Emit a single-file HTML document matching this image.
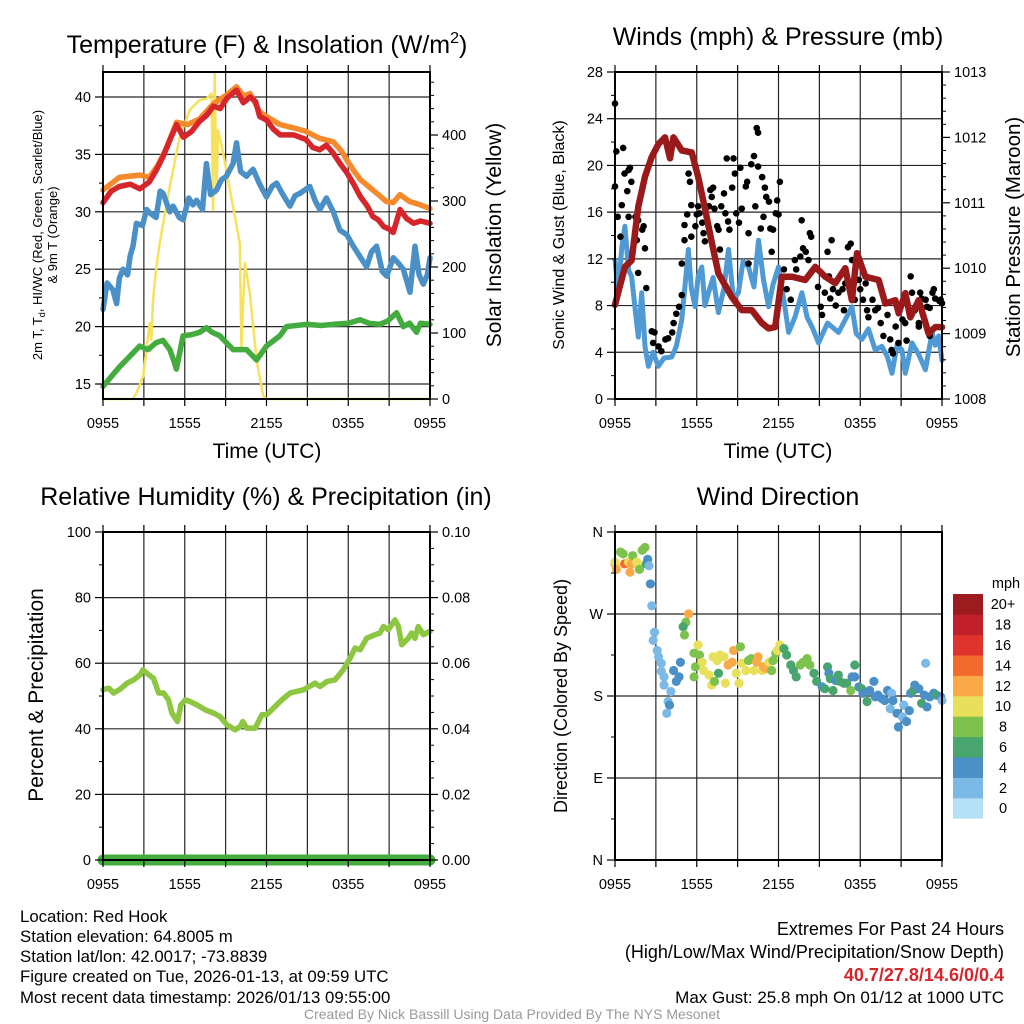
<!DOCTYPE html>
<html><head><meta charset="utf-8"><style>
html,body{margin:0;padding:0;background:#fff;}
svg{display:block;font-family:"Liberation Sans",Arial,sans-serif;}
</style></head><body>
<svg id="c" width="1024" height="1024" viewBox="0 0 1024 1024">
<rect width="1024" height="1024" fill="#fff"/>
<text x="267" y="53" font-size="25" text-anchor="middle">Temperature (F) &amp; Insolation (W/m<tspan dy="-10" font-size="16">2</tspan><tspan dy="10">)</tspan></text>
<text x="778" y="45" font-size="25" text-anchor="middle">Winds (mph) &amp; Pressure (mb)</text>
<text x="266" y="505" font-size="25" text-anchor="middle">Relative Humidity (%) &amp; Precipitation (in)</text>
<text x="778" y="505" font-size="25" text-anchor="middle">Wind Direction</text>
<text transform="translate(42,235) rotate(-90)" font-size="13" text-anchor="middle">2m T, T<tspan dy="3" font-size="9">d</tspan><tspan dy="-3">, HI/WC (Red, Green, Scarlet/Blue)</tspan></text>
<text transform="translate(57,235) rotate(-90)" font-size="13" text-anchor="middle">&amp; 9m T (Orange)</text>
<text transform="translate(501,235) rotate(-90)" font-size="21" text-anchor="middle">Solar Insolation (Yellow)</text>
<text transform="translate(564,235) rotate(-90)" font-size="16" text-anchor="middle">Sonic Wind &amp; Gust (Blue, Black)</text>
<text transform="translate(1020,237) rotate(-90)" font-size="20.5" text-anchor="middle">Station Pressure (Maroon)</text>
<text transform="translate(43,695) rotate(-90)" font-size="21" text-anchor="middle">Percent &amp; Precipitation</text>
<text transform="translate(567,696) rotate(-90)" font-size="18" text-anchor="middle">Direction (Colored By Speed)</text>
<text x="267" y="458" font-size="21" text-anchor="middle">Time (UTC)</text>
<text x="778" y="458" font-size="21" text-anchor="middle">Time (UTC)</text>
<g font-size="16.8">
<text x="20" y="922">Location: Red Hook</text>
<text x="20" y="942">Station elevation: 64.8005 m</text>
<text x="20" y="962">Station lat/lon: 42.0017; -73.8839</text>
<text x="20" y="982">Figure created on Tue, 2026-01-13, at 09:59 UTC</text>
<text x="20" y="1003">Most recent data timestamp: 2026/01/13 09:55:00</text>
</g>
<g font-size="18" text-anchor="end">
<text x="1004" y="935">Extremes For Past 24 Hours</text>
<text x="1004" y="958">(High/Low/Max Wind/Precipitation/Snow Depth)</text>
<text x="1004" y="981" fill="#d7262b" font-weight="bold">40.7/27.8/14.6/0/0.4</text>
<text x="1004" y="1003" font-size="17">Max Gust: 25.8 mph On 01/12 at 1000 UTC</text>
</g>
<text x="512" y="1019" font-size="14" fill="#999" text-anchor="middle">Created By Nick Bassill Using Data Provided By The NYS Mesonet</text>
</svg>
<script>
// ---- Temperature panel data (hours since 0955 UTC) ----
const redT=[0,0.6,1.2,2.0,2.7,3.4,3.9,4.4,5.0,5.4,5.9,6.5,7.1,7.6,8.1,8.6,9.1,9.5,9.8,10.3,10.8,11.2,11.5,12,12.5,13,14,14.9,15.4,15.9,16.4,16.9,17.4,17.9,18.4,18.9,19.4,19.8,20.2,20.6,21.0,21.3,21.8,22.3,22.8,23.3,24];
const redV=[30.8,31.8,32.2,32.4,32.0,32.6,33.6,34.8,36.5,37.6,36.5,37.0,37.9,38.4,39.2,39.0,39.9,40.3,40.6,39.5,40.0,39.6,38.3,38.0,37.2,36.7,36.7,36.3,35.6,35.4,35.8,35.1,34.2,33.4,32.4,31.3,30.5,29.6,29.3,28.7,28.5,28.2,30.2,29.4,29.0,29.2,29.0];
const orT=[0,1.2,2.7,3.4,4.0,4.6,5.4,6.2,7.1,8.1,9.1,9.8,10.3,10.8,11.5,12,13,14,14.9,15.9,16.9,17.5,17.9,18.4,18.9,19.4,19.8,20.3,20.8,21.3,21.8,22.5,23.3,24];
const orV=[31.9,33.0,33.2,33.0,34.0,35.4,37.8,37.6,38.1,39.4,40.2,40.9,40.1,40.3,38.7,38.3,37.6,37.3,37.0,36.4,36.1,35.3,34.5,33.6,32.8,32.3,31.9,31.4,30.9,30.8,31.5,30.9,30.6,30.3];
const hiT=[0,0.3,0.73,1.0,1.2,1.47,1.8,2.0,2.2,2.45,2.9,3.2,3.43,3.9,4.2,4.41,4.9,5.14,5.6,5.88,6.3,6.6,6.86,7.3,7.59,7.9,8.33,8.7,9.06,9.55,9.8,10.1,10.53,11.02,11.5,12,12.4,12.74,13.2,13.72,14.1,14.45,15.18,15.6,15.92,16.4,16.9,17.39,17.9,18.37,18.8,19.35,19.7,20.08,20.5,20.82,21.31,21.7,22.04,22.53,22.9,23.2,23.51,23.8,24];
const hiV=[21.5,23.8,23.2,22.0,24.2,25,24.5,26.2,27,29,28.8,30.2,29.9,29.5,31.8,31.6,30.0,30.5,29.5,29.3,31.2,30.6,31.0,30.2,34.2,31.5,31.9,32.8,33.1,34.2,36.0,33.5,33.1,33.7,32.4,31.3,32.2,32.5,31.5,30.5,31.4,31.6,32.2,30.9,30.2,31.2,30.0,28.4,28.0,27.0,26.2,25.2,26.5,27.0,24.8,24.4,26.0,25.5,25.0,23.0,27.0,24.5,23.7,24.5,26.0];
const tdT=[0,1.22,2.69,3.3,3.9,4.4,4.9,5.2,5.39,5.88,6.5,7.1,7.59,8.0,8.57,9.55,10.53,11.27,12.0,12.98,13.47,14.94,16.0,16.9,18.0,18.86,19.5,20.33,20.9,21.55,22.04,22.5,23.02,23.3,24];
const tdV=[14.8,16.5,18.3,18.0,18.6,18.8,18.0,17.0,16.3,19.2,19.3,19.5,19.9,19.5,19.2,18.0,18.0,17.1,18.3,19.2,20.0,20.2,20.1,20.2,20.3,20.6,20.3,20.2,20.5,21.2,20.0,20.3,19.5,20.3,20.2];
const solT=[0,2.2,2.45,2.94,3.43,3.55,3.67,3.92,4.16,4.9,5.63,6.37,7.1,7.59,7.96,8.08,8.2,8.33,8.45,8.82,9.55,10.04,10.16,10.41,10.78,11.27,11.76,12,24];
const solV=[0,0,9,34,115,90,150,200,236,322,397,438,453,455,463,286,494,312,407,372,291,236,79,206,160,59,5,0,0];
// ---- Wind panel data ----
const wsT=[0,0.24,0.5,0.73,1.0,1.22,1.5,1.71,1.96,2.2,2.45,2.8,3.18,3.6,4.16,4.5,4.9,5.39,5.6,5.88,6.1,6.37,6.6,6.86,7.2,7.59,8.0,8.33,8.7,9.06,9.4,9.8,10.2,10.53,10.9,11.27,11.6,12,12.4,12.74,13.2,13.72,14.1,14.45,14.94,15.6,16.41,16.9,17.39,17.7,18.12,18.6,19.1,19.59,20.0,20.33,20.7,21.06,21.31,21.8,22.3,22.78,23.27,23.5,23.76,24];
const wsV=[11.9,9.1,13.0,14.8,11.0,10.5,7.5,5.3,9.1,4.5,2.8,4.0,2.8,3.5,3.6,4.5,6.8,12.8,9.5,7.9,10.5,11.3,8.0,9.1,10.4,7.4,9.5,12.8,8.5,9.1,11.8,11.3,9.6,13.6,10.2,7.9,9.8,11.3,8.4,5.7,7.0,9.1,7.0,6.2,4.8,6.5,5.7,6.8,7.9,5.6,5.1,6.0,4.2,4.5,3.6,2.2,4.6,4.2,2.2,4.8,3.8,2.5,5.7,4.6,5.4,3.3];
const gustT=[0,0.1,0,0.2,0.4,0.6,0.5,0.7,1.0,1.1,0.9,1.2,1.0,1.5,1.7,2.0,2.1,2.2,1.7,2.3,1.6,2.7,2.9,2.8,3.2,3.4,3.7,3.9,4.2,4.3,4.5,4.7,4.9,4.9,5.1,5.1,5.3,5.4,5.5,5.6,5.6,5.9,6.0,6.1,6.2,6.4,6.5,6.6,6.9,7.0,7.1,7.2,7.3,7.5,7.6,7.7,7.8,8.0,8.1,8.2,8.3,8.4,8.6,8.7,8.8,8.9,9.1,9.2,9.3,9.6,9.7,9.8,9.8,10.0,10.2,10.3,10.4,10.5,10.5,10.7,10.8,10.9,11.0,11.1,11.3,11.4,11.5,11.6,11.8,11.9,12.0,12.1,12.4,12.6,12.9,13.2,13.3,13.6,13.7,13.8,14.0,14.2,14.3,14.4,14.9,15.1,15.2,15.4,15.6,15.7,15.8,15.9,16.0,16.2,16.4,16.7,16.8,16.9,17.1,17.3,17.4,17.6,17.9,18.0,18.2,18.4,18.5,18.6,18.9,19.1,19.3,19.5,19.7,20.0,20.2,20.3,20.4,20.6,20.8,21.1,21.3,21.4,21.7,21.8,22.0,22.3,22.4,22.5,22.8,22.9,23.1,23.3,23.4,23.5,23.8,23.9,24.0,23.1,22.3];
const gustV=[25.3,21.2,18.2,15.6,13.9,21.5,16.6,19.3,19.6,19.8,17.8,18.6,15.6,15.6,15.3,14.5,14.8,12.9,10.8,9.5,13.6,5.8,5.7,4.8,4.5,4.1,5.1,5.2,5.7,6.5,7.3,7.9,8.9,11.6,13.6,14.9,15.8,19.3,18.6,16.6,13.9,14.8,15.8,16.5,15.9,15.1,14.2,13.5,16.5,17.9,17.3,18.1,16.3,14.8,14.5,12.8,16.5,17.6,15.9,20.6,15.2,14.5,18.1,20.6,19.3,15.9,15.1,19.8,16.3,18.2,18.6,14.2,11.6,20.1,20.8,16.5,23.2,22.8,19.9,14.6,19.0,15.6,18.1,17.3,16.9,14.6,12.6,14.5,15.9,17.0,15.8,18.6,11.1,9.4,8.5,11.9,11.1,12.2,15.3,12.9,12.6,11.9,14.2,13.9,9.6,7.9,7.2,9.1,12.6,10.5,8.6,13.6,9.4,8.0,9.1,9.4,7.6,9.9,13.0,13.3,11.9,8.5,10.2,9.4,8.5,9.9,7.6,7.0,8.5,7.6,7.8,6.5,5.4,7.2,5.1,4.2,3.9,6.2,4.8,6.8,6.5,5.0,10.5,9.1,7.6,6.5,9.1,8.6,8.5,7.9,7.8,9.1,9.4,8.6,8.4,8.5,8.2,5.4,6.2];
const presT=[0,0.73,1.22,1.71,2.2,2.69,3.2,3.67,4.04,4.29,4.9,5.63,6.1,6.61,7.1,7.59,8.57,9.3,10.04,10.78,11.27,11.76,12.25,12.98,13.96,14.7,15.43,16.16,16.9,17.39,17.76,18.37,19.35,19.84,20.57,20.82,21.31,21.67,22.29,23.02,23.51,24];
const presV=[1009.44,1010.02,1010.12,1010.94,1011.4,1011.7,1011.9,1012.0,1011.68,1012.0,1011.8,1011.77,1011.4,1010.9,1010.4,1009.92,1009.56,1009.36,1009.36,1009.16,1009.08,1009.1,1009.87,1009.87,1009.82,1010.02,1009.87,1009.77,1010.0,1009.51,1010.23,1009.87,1009.82,1009.46,1009.51,1009.31,1009.62,1009.25,1009.51,1009.0,1009.1,1009.1];
// ---- Humidity panel data ----
const rhT=[0,0.42,0.78,1.27,1.76,2.25,2.74,2.93,3.35,3.71,4.08,4.45,4.81,5.06,5.47,5.72,6.04,6.4,6.89,7.5,8.11,8.6,9.09,9.7,10.07,10.26,10.56,11.17,11.66,12.02,12.63,13.12,13.73,14.71,15.57,15.93,16.42,17.03,17.64,18.13,18.5,18.87,19.35,19.97,20.33,20.58,20.94,21.43,21.68,21.92,22.41,22.65,22.9,23.14,23.51,24];
const rhV=[51.9,52.4,50.9,52.1,53.9,54.9,56.5,58.0,56.5,55.4,50.9,50.9,48.8,44.8,42.2,47.3,48.8,48.3,47.3,45.8,44.8,43.7,41.2,39.7,40.7,42.2,40.2,40.2,44.3,44.3,46.8,48.8,50.9,51.9,53.9,52.9,54.4,54.9,58.0,61.5,64.6,64.1,67.6,68.7,69.2,71.2,70.2,73.2,71.2,65.6,67.6,69.2,67.6,71.2,68.7,69.7];
const precipT=[0,24];
const precipV=[0,0];
// ---- Wind direction data ----
const dirT=[0,0,0.1,0.4,0.6,0.7,1.0,1.1,1.2,1.3,1.6,1.7,1.8,2.0,2.2,2.3,2.4,2.5,2.6,2.7,5.4,5.2,5.0,5.1,2.9,2.8,3.1,3.2,3.4,3.4,3.6,3.6,3.9,4.0,3.8,4.1,4.3,4.5,4.7,4.8,5.8,6.1,6.2,5.8,5.9,6.4,6.5,6.9,7.1,7.3,7.6,7.2,7.5,7.7,8.0,8.1,8.3,8.6,8.7,8.9,9.1,9.2,9.3,9.6,9.8,10.0,10.2,10.4,10.5,10.8,10.9,11.1,11.3,11.5,11.6,11.8,11.9,12.1,12.4,12.6,12.9,13.1,13.3,13.6,13.8,14.1,14.3,14.6,14.8,15.2,15.4,15.6,15.7,15.8,16.0,16.2,16.4,16.5,16.8,17.0,17.3,17.4,17.6,17.6,17.9,18.1,18.2,18.5,18.7,19.0,19.1,19.3,19.6,19.8,20.0,20.2,20.3,20.4,20.7,20.8,21.1,21.2,21.4,21.6,21.7,21.9,22.0,22.3,22.5,22.7,22.8,22.9,23.1,23.4,23.6,23.9,24.0];
const dirV=[325,327,319,338,336,325,327,316,325,334,327,323,319,340,343,325,330,323,303,279,270,261,256,247,250,241,230,223,216,207,201,192,174,170,161,185,208,196,201,217,227,236,225,201,212,217,208,203,192,196,205,223,219,225,223,194,214,217,230,205,194,234,216,208,219,221,208,217,223,208,212,210,217,208,219,227,230,236,232,225,214,208,201,214,217,221,214,205,196,190,188,212,205,199,186,197,203,196,194,194,186,201,214,201,190,188,183,174,186,196,179,181,177,175,186,166,183,175,161,146,157,170,152,164,183,186,192,188,172,181,216,168,179,183,181,179,175];
const dirSpd=[13,11,12,8,8,15,11,12,13,8,11,10,8,8,8,6,4,2,4,2,13,8,6,8,2,2,2,2,2,2,2,2,2,4,2,2,4,4,4,4,8,10,8,8,8,10,10,10,10,8,6,10,10,10,10,10,13,13,13,10,10,8,10,10,8,8,10,13,13,10,13,13,10,8,8,8,10,10,6,6,6,6,6,8,8,8,8,6,6,4,6,6,4,6,6,4,6,6,6,6,8,4,6,4,4,6,4,6,4,4,4,4,4,4,4,2,2,4,4,4,2,2,4,4,4,6,4,4,6,4,2,4,4,4,6,4,2];
const xTickLabels=["0955","1555","2155","0355","0955"];
const speedBins=["0","2","4","6","8","10","12","14","16","18","20+"];
const speedColors=["#b3e0f5","#7bbae6","#4a90c6","#48a56e","#7cc24c","#e8e05a","#f9a947","#f26a2c","#e0322c","#c1202a","#9b1b1e"];

const NS="http://www.w3.org/2000/svg";
const svg=document.getElementById('c');
function mk(tag,attrs,parent){const e=document.createElementNS(NS,tag);for(const k in attrs)e.setAttribute(k,attrs[k]);(parent||svg).appendChild(e);return e;}
function lin(d0,d1,r0,r1){return v=>r0+(v-d0)*(r1-r0)/(d1-d0);}
function txt(x,y,s,anchor,size,parent){const t=mk('text',{x:x,y:y,'font-size':size||14,'text-anchor':anchor||'middle'},parent);t.textContent=s;return t;}

function panel(name,x0,x1,y0,y1){
  const g=mk('g',{});
  
  
  return {g,x0,x1,y0,y1,sx:lin(0,24,x0,x1)};
}
function grid(p,ys){
  const gg=mk('g',{stroke:'#000','stroke-width':1.2,opacity:0.85},p.g);
  
  
  for(let h=3;h<24;h+=3){mk('line',{x1:p.sx(h),x2:p.sx(h),y1:p.y0,y2:p.y1},gg);}
  ys.forEach(y=>mk('line',{x1:p.x0,x2:p.x1,y1:y,y2:y},gg));
}
function frame(p){
  const f=mk('rect',{x:p.x0,y:p.y0,width:p.x1-p.x0,height:p.y1-p.y0,fill:'none',stroke:'#000','stroke-width':2},p.g);
  
  
  for(let h=0;h<=24;h+=3){mk('line',{x1:p.sx(h),x2:p.sx(h),y1:p.y1,y2:p.y1+7,stroke:'#000','stroke-width':1.2},p.g);
    mk('line',{x1:p.sx(h),x2:p.sx(h),y1:p.y0,y2:p.y0-7,stroke:'#000','stroke-width':1.2},p.g);}
  xTickLabels.forEach((s,i)=>{const t=txt(p.sx(i*6),p.y1+29,s,'middle',14.5,p.g);
    
    });
}
function yAxis(p,sy,ticks,minor,side,fmt){
  const x=side==='left'?p.x0:p.x1, d=side==='left'?-1:1;
  ticks.forEach(v=>{const y=sy(v);mk('line',{x1:x,x2:x+d*8,y1:y,y2:y,stroke:'#000','stroke-width':1.2},p.g);
    const t=txt(x+d*12,y+5,fmt?fmt(v):String(v),side==='left'?'end':'start',14.5,p.g);
    
    });
  minor.forEach(v=>{const y=sy(v);mk('line',{x1:x,x2:x+d*4,y1:y,y2:y,stroke:'#000','stroke-width':1},p.g);});
}
function line(p,ts,vs,sy,color,w,name){
  const d=ts.map((t,i)=>(i?'L':'M')+p.sx(t).toFixed(1)+','+sy(vs[i]).toFixed(1)).join('');
  const e=mk('path',{d:d,fill:'none',stroke:color,'stroke-width':w,'stroke-linejoin':'round','stroke-linecap':'round'},p.g);
  
  
  return e;
}
function range(a,b,s){const r=[];for(let v=a;v<=b+1e-9;v+=s)r.push(+v.toFixed(4));return r;}

// Panel 1
const p1=panel('temperature',103,430,72,399);
const sT=lin(15,40,384,97), sS=lin(0,400,399,135);
grid(p1,[15,20,25,30,35,40].map(sT));
line(p1,solT,solV,sS,'#f7e15a',2.5,'insolation-line');
line(p1,tdT,tdV,sT,'#44ab3f',5.5,'dewpoint-line');
line(p1,hiT,hiV,sT,'#4a90c6',5.5,'windchill-line');
line(p1,orT,orV,sT,'#f58a2c',5.5,'temp-9m-line');
line(p1,redT,redV,sT,'#d7262b',5.5,'temp-2m-line');
frame(p1);
yAxis(p1,sT,[15,20,25,30,35,40],range(17.5,42.5,5).filter(v=>v<=42),'left');
yAxis(p1,sS,[0,100,200,300,400],range(20,480,20).filter(v=>v%100),'right');

// Panel 2
const p2=panel('winds',615,942,72,399);
const sW=lin(0,28,399,72), sP=lin(1008,1013,399,72);
grid(p2,range(4,24,4).map(sW));
line(p2,wsT,wsV,sW,'#4f9ad4',5,'sonic-wind-line');
gustT.forEach((t,i)=>{const c=mk('circle',{cx:p2.sx(t),cy:sW(gustV[i]),r:3.3,fill:'#000'},p2.g);
  
  });
line(p2,presT,presV,sP,'#9a1a1c',6.5,'pressure-line');
frame(p2);
yAxis(p2,sW,range(0,28,4),range(2,26,4),'left');
yAxis(p2,sP,range(1008,1013,1),range(1008.2,1012.8,0.2).filter(v=>Math.abs(v-Math.round(v))>0.01),'right');

// Panel 3
const p3=panel('humidity',103,430,532,860);
const sR=lin(0,100,860,532), sPr=lin(0,0.1,860,532);
grid(p3,range(20,80,20).map(sR));
line(p3,rhT,rhV,sR,'#8dc641',5.5,'humidity-line');
line(p3,precipT,precipV,sPr,'#44ab3f',11,'precipitation-line');
frame(p3);
yAxis(p3,sR,range(0,100,20),range(10,90,20),'left');
yAxis(p3,sPr,range(0,0.1,0.02),range(0.005,0.095,0.005).filter(v=>Math.abs(v*50-Math.round(v*50))>0.01),'right',v=>v.toFixed(2));

// Panel 4
const p4=panel('wind-direction',615,942,532,860);
const sD=lin(0,360,860,532);
grid(p4,[90,180,270].map(sD));
dirT.forEach((t,i)=>{const bi=Math.min(10,Math.floor(dirSpd[i]/2));
  const c=mk('circle',{cx:p4.sx(t),cy:sD(dirV[i]),r:4.6,fill:speedColors[bi]},p4.g);
  
  });
frame(p4);
yAxis(p4,sD,[0,90,180,270,360],[45,135,225,315],'left',v=>({0:'N',90:'E',180:'S',270:'W',360:'N'})[v]);

// Colorbar
const cb=mk('g',{});


const cbTop=594,cbH=20.4;
speedBins.forEach((s,i)=>{const y=cbTop+(10-i)*cbH;
  const r=mk('rect',{x:953,y:y,width:30,height:cbH+0.3,fill:speedColors[i]},cb);
  
  
  const t=txt(1003,y+cbH/2+5,s,'middle',14.5,cb);
  
  });
const mph=txt(1006,588,'mph','middle',14.5,cb);


</script>
</body></html>
